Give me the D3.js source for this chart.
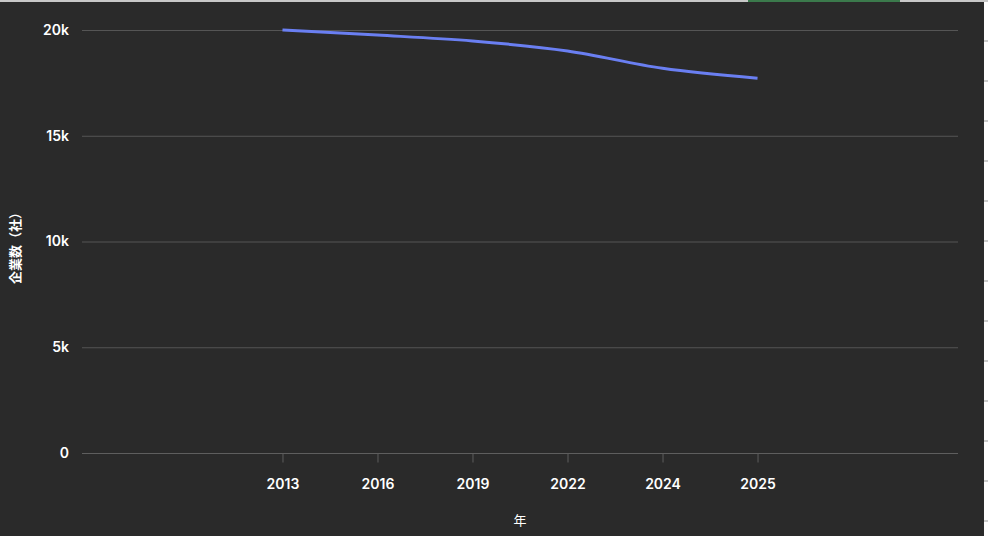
<!DOCTYPE html>
<html><head><meta charset="utf-8">
<script src="https://cdn.jsdelivr.net/npm/d3@7"></script>
<style>
html,body{margin:0;padding:0;background:#2a2a2a;overflow:hidden;}
svg{display:block;}
</style></head>
<body>
<svg id="chart" width="988" height="536"></svg>
<script>
const years = ["2013","2016","2019","2022","2024","2025"];
const companies = [20000, 19760, 19480, 19010, 18190, 17720];
const yTicks = [0, 5000, 10000, 15000, 20000];
const yTickLabels = ["0","5k","10k","15k","20k"];
const xTitle = "年";
const yTitle = "企業数（社）";

const W = 988, H = 536;
const m = {left: 82, right: 30, top: 30, bottom: 83};
const svg = d3.select("#chart");
svg.append("rect").attr("width", W).attr("height", H).attr("fill", "#2a2a2a");

// window chrome decoration
svg.append("rect").attr("x",0).attr("y",0).attr("width",W).attr("height",2).attr("fill","#c8c8c8");
svg.append("rect").attr("x",748).attr("y",0).attr("width",152).attr("height",2).attr("fill","#3b7a4c");
svg.append("rect").attr("x",984).attr("y",2).attr("width",4).attr("height",H).attr("fill","#ffffff");
svg.selectAll("rect.mark").data(d3.range(40, H, 40)).enter().append("rect")
  .attr("class","mark").attr("x",984).attr("y",d=>d).attr("width",4).attr("height",2).attr("fill","#cfcfcf");

const x = d3.scalePoint().domain(years).range([m.left, W - m.right]).padding(2.11);
const y = d3.scaleLinear().domain([0, 20000]).range([453, 30]);

// grid
svg.append("g").selectAll("line").data(yTicks).enter().append("line")
  .attr("x1", m.left).attr("x2", W - m.right)
  .attr("y1", d => y(d) + 0.5).attr("y2", d => y(d) + 0.5)
  .attr("stroke", d => d === 0 ? "#5e5e5e" : "#555555").attr("stroke-width", 1);

// y axis labels
const yAxis = svg.append("g").attr("transform", `translate(${m.left},0)`)
  .call(d3.axisLeft(y).tickValues(yTicks).tickFormat((d,i)=>yTickLabels[i]).tickSize(0).tickPadding(13));
yAxis.select(".domain").remove();
yAxis.selectAll("text").attr("fill","#ffffff").style("font-family","Inter, 'Noto Sans', sans-serif")
  .style("font-size","14px").style("font-weight","600");

// x axis
const xAxis = svg.append("g").attr("transform", `translate(0,453.5)`)
  .call(d3.axisBottom(x).tickSize(9).tickPadding(17));
xAxis.select(".domain").remove();
xAxis.selectAll("line").attr("stroke","#5e5e5e");
xAxis.selectAll("text").attr("fill","#ffffff").style("font-family","Inter, 'Noto Sans', sans-serif")
  .style("font-size","14px").style("font-weight","600");

// line
const line = d3.line().x((d,i)=>x(years[i])).y(d=>y(d)).curve(d3.curveMonotoneX);
svg.append("path").datum(companies).attr("d", line)
  .attr("fill","none").attr("stroke","#6a7ff2").attr("stroke-width",3).attr("stroke-linecap","butt");

// titles
svg.append("text").attr("x", 520).attr("y", 525).attr("text-anchor","middle")
  .attr("fill","#ffffff").style("font-family","'Noto Sans CJK JP', sans-serif").style("font-size","13px")
  .text(xTitle);
svg.append("text").attr("transform","translate(20,245) rotate(-90)").attr("text-anchor","middle")
  .attr("fill","#ffffff").style("font-family","'Noto Sans CJK JP', sans-serif").style("font-size","13px")
  .style("font-weight","600").text(yTitle);
</script>
</body></html>
